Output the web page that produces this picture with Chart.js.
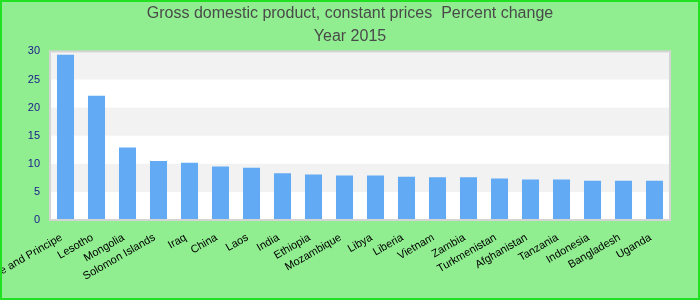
<!DOCTYPE html>
<html>
<head>
<meta charset="utf-8">
<script src="https://cdn.jsdelivr.net/npm/chart.js@4/dist/chart.umd.min.js"></script>
<style>
  html, body { margin: 0; padding: 0; background: #90ee90; }
  #wrap { width: 700px; height: 300px; position: relative; }
</style>
</head>
<body>
<div id="wrap"><canvas id="c" width="700" height="300"></canvas></div>
<script>
const titleLines = ["Gross domestic product, constant prices  Percent change", "Year 2015"];
const countries = ["Sao Tome and Principe", "Lesotho", "Mongolia", "Solomon Islands", "Iraq", "China", "Laos", "India", "Ethiopia", "Mozambique", "Libya", "Liberia", "Vietnam", "Zambia", "Turkmenistan", "Afghanistan", "Tanzania", "Indonesia", "Bangladesh", "Uganda"];
const growth = [29.4, 22.1, 12.9, 10.5, 10.2, 9.5, 9.3, 8.3, 8.1, 7.9, 7.9, 7.7, 7.6, 7.6, 7.4, 7.2, 7.2, 7.0, 7.0, 7.0];
const yTicks = [0, 5, 10, 15, 20, 25, 30];

const bgPlugin = {
  id: 'bg',
  beforeDraw(chart) {
    const ctx = chart.ctx, a = chart.chartArea, y = chart.scales.y;
    ctx.save();
    ctx.fillStyle = '#90ee90';
    ctx.fillRect(0, 0, chart.width, chart.height);
    ctx.fillStyle = '#ffffff';
    ctx.fillRect(a.left, a.top, a.right - a.left, a.bottom - a.top);
    ctx.fillStyle = '#f2f2f2';
    for (let i = 1; i < yTicks.length; i += 2) {
      const t = y.getPixelForValue(yTicks[i + 1] !== undefined ? yTicks[i + 1] : yTicks[i]);
      const b = y.getPixelForValue(yTicks[i]);
      ctx.fillRect(a.left, t, a.right - a.left, b - t);
    }
    ctx.restore();
  },
  afterDraw(chart) {
    const ctx = chart.ctx, a = chart.chartArea;
    ctx.save();
    ctx.strokeStyle = '#d4d4d4';
    ctx.lineWidth = 2;
    ctx.strokeRect(a.left, a.top, a.right - a.left, a.bottom - a.top);
    ctx.strokeStyle = '#22e022';
    ctx.lineWidth = 2;
    ctx.strokeRect(1, 1, chart.width - 2, chart.height - 2);
    ctx.restore();
  }
};

new Chart(document.getElementById('c'), {
  type: 'bar',
  data: {
    labels: countries,
    datasets: [{
      data: growth,
      backgroundColor: '#62aaf4',
      borderWidth: 0,
      barPercentage: 0.55,
      categoryPercentage: 1.0
    }]
  },
  plugins: [bgPlugin],
  options: {
    responsive: false,
    animation: false,
    devicePixelRatio: 1,
    layout: { padding: { left: 0, right: 0, top: 0, bottom: 0 } },
    plugins: {
      legend: { display: false },
      tooltip: { enabled: false },
      title: {
        display: true,
        text: titleLines,
        color: '#4a4a4a',
        font: { family: 'Liberation Sans, Arial, sans-serif', size: 16, weight: 'normal', lineHeight: 1.45 },
        padding: { top: 2, bottom: 3 }
      }
    },
    scales: {
      x: {
        grid: { display: false },
        border: { display: false },
        ticks: {
          color: '#000000',
          font: { family: 'Liberation Sans, Arial, sans-serif', size: 11 },
          maxRotation: 30,
          minRotation: 30,
          autoSkip: false,
          padding: 3,
          labelOffset: -4
        },
        afterFit(s) { s.height = 80; s.paddingLeft = 0; s.paddingRight = 30; }
      },
      y: {
        min: 0,
        max: 30,
        grid: { display: false },
        border: { display: false },
        ticks: {
          stepSize: 5,
          color: '#1a1a8c',
          font: { family: 'Liberation Sans, Arial, sans-serif', size: 11 },
          padding: 2
        },
        afterFit(s) { s.width = 50; s.paddingTop = 0; s.paddingBottom = 0; }
      }
    }
  }
});
</script>
</body>
</html>
